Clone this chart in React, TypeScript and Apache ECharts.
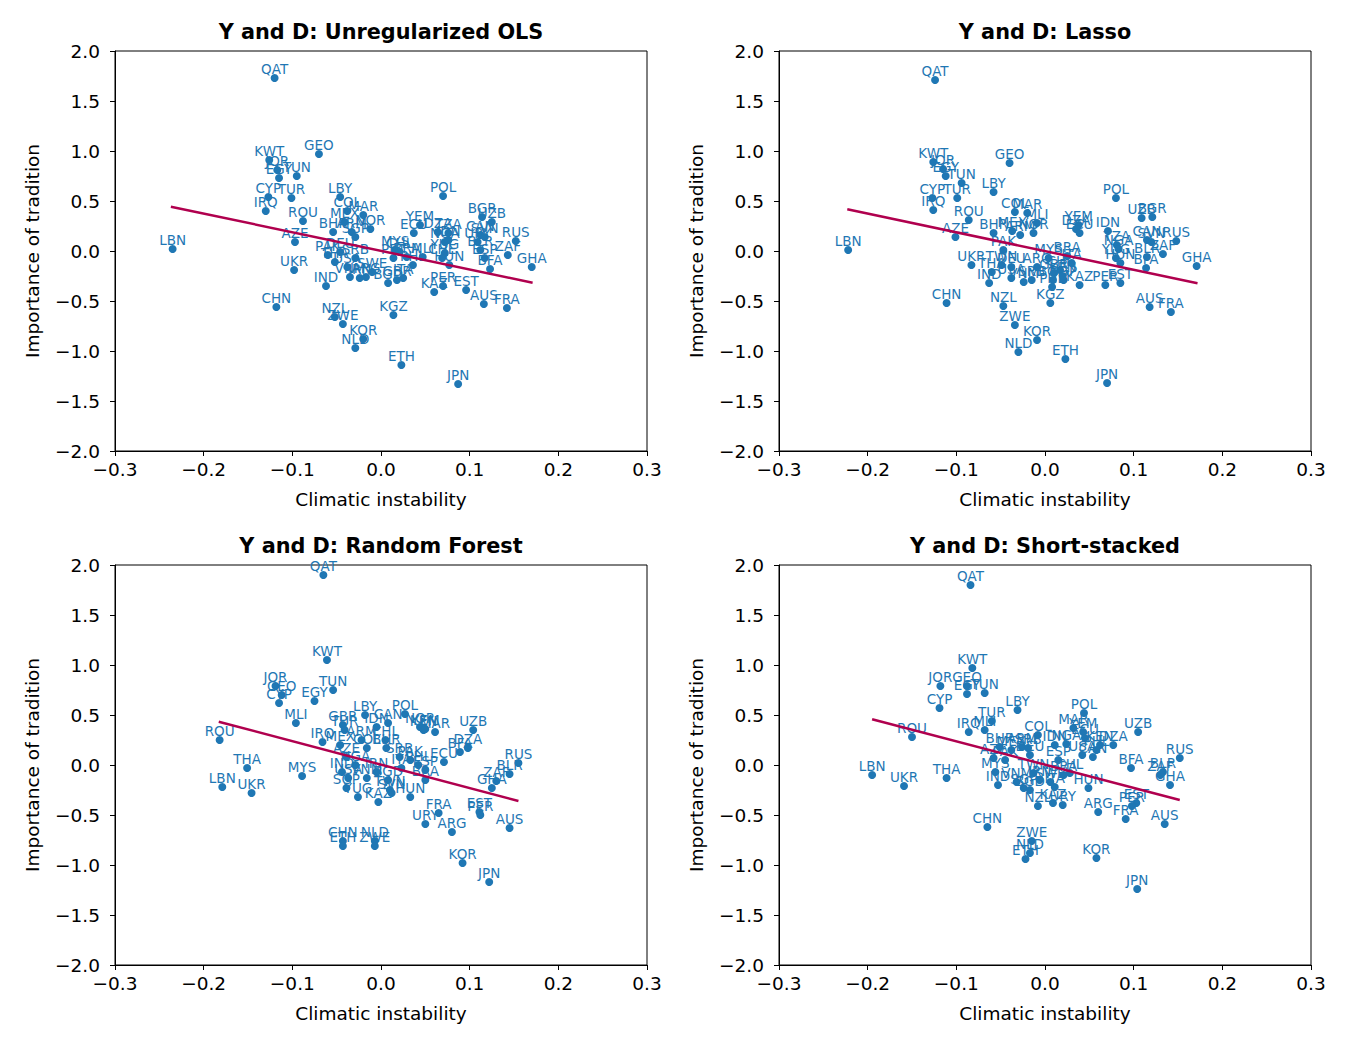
import React, { useEffect, useRef } from "react";
import * as echarts from "echarts";

type P = [string, number, number];

const olsPoints: P[] = [
  ["QAT", -0.120, 1.73], ["KWT", -0.126, 0.91], ["JOR", -0.117, 0.81], ["EGY", -0.115, 0.73],
  ["TUN", -0.095, 0.75], ["GEO", -0.070, 0.97], ["CYP", -0.127, 0.54], ["TUR", -0.101, 0.53],
  ["IRQ", -0.130, 0.40], ["ROU", -0.088, 0.30], ["LBY", -0.046, 0.54], ["COL", -0.038, 0.40],
  ["MAR", -0.020, 0.36], ["MEX", -0.041, 0.29], ["NOR", -0.012, 0.22], ["BHR", -0.054, 0.19],
  ["ARM", -0.033, 0.19], ["SGP", -0.029, 0.14], ["AZE", -0.097, 0.09], ["PAK", -0.060, -0.04],
  ["DEU", -0.046, -0.01], ["SRB", -0.029, -0.07], ["THA", -0.052, -0.11], ["USA", -0.038, -0.16],
  ["VNM", -0.035, -0.26], ["IRN", -0.024, -0.27], ["ARG", -0.017, -0.26], ["SWE", -0.010, -0.21],
  ["UKR", -0.098, -0.19], ["IND", -0.062, -0.35], ["CHN", -0.118, -0.56], ["NZL", -0.052, -0.66],
  ["ZWE", -0.043, -0.73], ["KOR", -0.020, -0.88], ["NLD", -0.029, -0.97], ["KGZ", 0.014, -0.64],
  ["ETH", 0.023, -1.14], ["YEM", 0.044, 0.26], ["ECU", 0.037, 0.18], ["MYS", 0.016, 0.01],
  ["CHL", 0.021, -0.01], ["BRA", 0.029, -0.06], ["PHL", 0.036, -0.14], ["BGD", 0.008, -0.32],
  ["GBR", 0.018, -0.29], ["ITA", 0.025, -0.27], ["PRT", 0.014, -0.07], ["MLI", 0.047, -0.06],
  ["POL", 0.070, 0.55], ["BGR", 0.114, 0.34], ["UZB", 0.125, 0.29], ["DZA", 0.064, 0.19],
  ["TZA", 0.076, 0.18], ["NGA", 0.072, 0.09], ["IDN", 0.076, 0.11], ["CAN", 0.112, 0.16],
  ["SVN", 0.117, 0.14], ["URY", 0.109, 0.09], ["RUS", 0.152, 0.10], ["ZAF", 0.143, -0.04],
  ["BLR", 0.112, 0.01], ["ESP", 0.117, -0.07], ["BFA", 0.123, -0.18], ["GHA", 0.170, -0.16],
  ["YUG", 0.072, -0.02], ["HUN", 0.077, -0.14], ["CHE", 0.069, -0.07], ["PER", 0.070, -0.35],
  ["KAZ", 0.060, -0.41], ["EST", 0.096, -0.39], ["AUS", 0.116, -0.53], ["FRA", 0.142, -0.57],
  ["JPN", 0.087, -1.33], ["LBN", -0.235, 0.02],
];
const olsLine: [number, number][] = [[-0.237, 0.443], [0.171, -0.317]];

const lassoPoints: P[] = [
  ["QAT", -0.124, 1.71], ["KWT", -0.126, 0.89], ["JOR", -0.115, 0.82], ["EGY", -0.112, 0.75],
  ["TUN", -0.094, 0.68], ["GEO", -0.040, 0.88], ["CYP", -0.127, 0.53], ["TUR", -0.099, 0.53],
  ["IRQ", -0.126, 0.41], ["LBY", -0.058, 0.59], ["ROU", -0.086, 0.31], ["AZE", -0.101, 0.14],
  ["COL", -0.034, 0.39], ["MAR", -0.020, 0.38], ["MEX", -0.037, 0.20], ["BHR", -0.058, 0.18],
  ["ARM", -0.028, 0.16], ["NOR", -0.013, 0.18], ["MLI", -0.009, 0.28], ["PAK", -0.047, 0.01],
  ["UKR", -0.083, -0.14], ["THA", -0.060, -0.21], ["IND", -0.063, -0.32], ["TWN", -0.049, -0.14],
  ["DEU", -0.038, -0.16], ["USA", -0.038, -0.27], ["VNM", -0.024, -0.31], ["SRB", -0.015, -0.29],
  ["ARG", -0.009, -0.16], ["MYS", 0.004, -0.07], ["BGD", 0.009, -0.29], ["PHL", 0.008, -0.36],
  ["SGP", 0.021, -0.29], ["CHL", 0.017, -0.19], ["BRA", 0.025, -0.05], ["ITA", 0.030, -0.12],
  ["KEN", 0.020, -0.25], ["GBR", 0.010, -0.22], ["CHN", -0.111, -0.52], ["NZL", -0.047, -0.55],
  ["ZWE", -0.034, -0.74], ["KOR", -0.009, -0.89], ["NLD", -0.030, -1.01], ["KGZ", 0.006, -0.52],
  ["ETH", 0.023, -1.08], ["POL", 0.080, 0.53], ["UZB", 0.109, 0.33], ["BGR", 0.121, 0.34],
  ["YEM", 0.038, 0.26], ["DZA", 0.035, 0.22], ["ECU", 0.039, 0.18], ["IDN", 0.071, 0.20],
  ["TZA", 0.081, 0.06], ["NGA", 0.083, 0.02], ["CAN", 0.115, 0.11], ["SVN", 0.120, 0.09],
  ["RUS", 0.148, 0.10], ["ZAF", 0.133, -0.03], ["BLR", 0.115, -0.06], ["BFA", 0.114, -0.17],
  ["YUG", 0.080, -0.07], ["HUN", 0.085, -0.12], ["EST", 0.085, -0.32], ["PER", 0.068, -0.34],
  ["KAZ", 0.039, -0.34], ["GHA", 0.171, -0.15], ["AUS", 0.118, -0.56], ["FRA", 0.142, -0.61],
  ["JPN", 0.070, -1.32], ["LBN", -0.222, 0.01],
];
const lassoLine: [number, number][] = [[-0.223, 0.417], [0.172, -0.323]];

const rfPoints: P[] = [
  ["QAT", -0.065, 1.90], ["KWT", -0.061, 1.05], ["JOR", -0.119, 0.79], ["GEO", -0.112, 0.70],
  ["CYP", -0.115, 0.62], ["EGY", -0.075, 0.64], ["TUN", -0.054, 0.75], ["MLI", -0.096, 0.42],
  ["ROU", -0.182, 0.25], ["LBY", -0.018, 0.50], ["GBR", -0.043, 0.40], ["TUR", -0.041, 0.35],
  ["IRQ", -0.066, 0.23], ["THA", -0.151, -0.03], ["LBN", -0.179, -0.22], ["UKR", -0.146, -0.28],
  ["MYS", -0.089, -0.11], ["POL", 0.027, 0.51], ["CAN", 0.008, 0.42], ["NOR", 0.044, 0.38],
  ["KEN", 0.048, 0.35], ["MAR", 0.061, 0.33], ["IDN", -0.005, 0.38], ["ECU", 0.071, 0.03],
  ["MEX", -0.046, 0.20], ["ARM", -0.022, 0.25], ["COL", -0.016, 0.17], ["CHL", 0.005, 0.25],
  ["BHR", 0.006, 0.17], ["SRB", 0.021, 0.08], ["PAK", 0.033, 0.05], ["PHL", 0.042, 0.00],
  ["AZE", -0.039, 0.08], ["NGA", -0.029, 0.00], ["IND", -0.044, -0.07], ["USA", -0.037, -0.13],
  ["SGP", -0.039, -0.23], ["YUG", -0.026, -0.32], ["KAZ", -0.003, -0.37], ["VNM", -0.016, -0.13],
  ["IRN", -0.005, -0.07], ["BGD", 0.008, -0.15], ["TWN", 0.010, -0.25], ["SVN", 0.012, -0.28],
  ["ITA", 0.023, -0.03], ["HUN", 0.033, -0.32], ["BRA", 0.050, -0.15], ["ESP", 0.050, -0.05],
  ["YEM", 0.050, 0.36], ["FRA", 0.065, -0.48], ["URY", 0.050, -0.59], ["ARG", 0.080, -0.67],
  ["CHN", -0.043, -0.76], ["ETH", -0.043, -0.81], ["NLD", -0.007, -0.76], ["ZWE", -0.007, -0.81],
  ["UZB", 0.104, 0.35], ["BFA", 0.089, 0.13], ["DZA", 0.098, 0.17], ["RUS", 0.155, 0.02],
  ["BLR", 0.145, -0.09], ["ZAF", 0.130, -0.16], ["GHA", 0.125, -0.23], ["EST", 0.111, -0.47],
  ["PER", 0.112, -0.50], ["AUS", 0.145, -0.63], ["KOR", 0.092, -0.98], ["JPN", 0.122, -1.17],
];
const rfLine: [number, number][] = [[-0.183, 0.433], [0.155, -0.36]];

const stackPoints: P[] = [
  ["QAT", -0.084, 1.80], ["KWT", -0.082, 0.97], ["JOR", -0.118, 0.79], ["GEO", -0.088, 0.79],
  ["EGY", -0.088, 0.71], ["TUN", -0.068, 0.72], ["CYP", -0.119, 0.57], ["LBY", -0.031, 0.55],
  ["TUR", -0.060, 0.44], ["MLI", -0.068, 0.35], ["IRQ", -0.086, 0.33], ["ROU", -0.150, 0.28],
  ["COL", -0.008, 0.30], ["LBN", -0.195, -0.10], ["THA", -0.111, -0.13], ["UKR", -0.159, -0.21],
  ["IDN", 0.011, 0.20], ["NGA", 0.024, 0.21], ["BHR", -0.051, 0.18], ["MEX", -0.038, 0.15],
  ["ARM", -0.026, 0.18], ["SRB", -0.019, 0.17], ["DEU", -0.017, 0.10], ["AZE", -0.058, 0.07],
  ["PAK", -0.045, 0.05], ["ESP", 0.015, 0.05], ["MYS", -0.056, -0.07], ["IND", -0.053, -0.20],
  ["VNM", -0.032, -0.17], ["SGP", -0.024, -0.23], ["BGD", -0.017, -0.25], ["TWN", -0.013, -0.08],
  ["IRN", -0.006, -0.15], ["SWE", 0.006, -0.17], ["ITA", 0.011, -0.22], ["CHL", 0.028, -0.08],
  ["BRA", 0.021, -0.10], ["NZL", -0.008, -0.41], ["KAZ", 0.009, -0.38], ["URY", 0.020, -0.40],
  ["CHN", -0.065, -0.62], ["ZWE", -0.015, -0.76], ["NLD", -0.017, -0.88], ["ETH", -0.022, -0.94],
  ["POL", 0.044, 0.52], ["MAR", 0.032, 0.37], ["YEM", 0.043, 0.33], ["ECU", 0.045, 0.27],
  ["DZA", 0.077, 0.20], ["KEN", 0.062, 0.20], ["PHL", 0.058, 0.15], ["USA", 0.042, 0.10],
  ["CAN", 0.054, 0.08], ["UZB", 0.105, 0.33], ["BFA", 0.097, -0.03], ["RUS", 0.152, 0.07],
  ["ZAF", 0.130, -0.10], ["BLR", 0.133, -0.07], ["GHA", 0.141, -0.20], ["HUN", 0.049, -0.23],
  ["ARG", 0.060, -0.47], ["FRA", 0.091, -0.54], ["EST", 0.103, -0.38], ["PER", 0.098, -0.41],
  ["AUS", 0.135, -0.59], ["KOR", 0.058, -0.93], ["JPN", 0.104, -1.24],
];
const stackLine: [number, number][] = [[-0.195, 0.457], [0.152, -0.35]];

const panelTitles = [
  "Y and D: Unregularized OLS",
  "Y and D: Lasso",
  "Y and D: Random Forest",
  "Y and D: Short-stacked",
];
const panelPoints = [olsPoints, lassoPoints, rfPoints, stackPoints];
const panelLines = [olsLine, lassoLine, rfLine, stackLine];

const xLabel = "Climatic instability";
const yLabel = "Importance of tradition";

const FONT = "DejaVu Sans";
const DOT = "#1f77b4";
const LINE = "#b0004e";

const fmt = (v: number) => {
  const r = Math.abs(v) < 1e-9 ? 0 : v;
  const s = r.toFixed(1);
  return s.startsWith("-") ? "\u2212" + s.slice(1) : s;
};

export default function App() {
  const ref = useRef<HTMLDivElement>(null);
  useEffect(() => {
    if (!ref.current) return;
    const chart = echarts.init(ref.current, undefined, { renderer: "svg" });
    const lefts = [115, 779, 115, 779];
    const tops = [51, 51, 565, 565];
    const W = 532;
    const H = 400;
    const grid = lefts.map((l, i) => ({
      left: l, top: tops[i], width: W, height: H,
      show: true, borderColor: "#000", borderWidth: 1, backgroundColor: "transparent",
    }));
    const xAxis = lefts.map((_, i) => ({
      gridIndex: i, type: "value", min: -0.3, max: 0.3, interval: 0.1,
      name: xLabel, nameLocation: "middle", nameGap: 39,
      nameTextStyle: { color: "#000", fontSize: 18.5, fontFamily: FONT },
      axisLine: { show: true, onZero: false, lineStyle: { color: "#000", width: 1 } },
      axisTick: { show: true, inside: false, length: 5, lineStyle: { color: "#000" } },
      axisLabel: { color: "#000", fontSize: 18.5, fontFamily: FONT, margin: 9, formatter: fmt },
      splitLine: { show: false },
    }));
    const yAxis = lefts.map((_, i) => ({
      gridIndex: i, type: "value", min: -2, max: 2, interval: 0.5,
      name: yLabel, nameLocation: "middle", nameGap: 73,
      nameTextStyle: { color: "#000", fontSize: 18.5, fontFamily: FONT },
      axisLine: { show: true, onZero: false, lineStyle: { color: "#000", width: 1 } },
      axisTick: { show: true, inside: false, length: 5, lineStyle: { color: "#000" } },
      axisLabel: { color: "#000", fontSize: 18.5, fontFamily: FONT, margin: 15, formatter: fmt },
      splitLine: { show: false },
    }));
    const series: any[] = [];
    panelPoints.forEach((pts, i) => {
      series.push({
        type: "scatter", xAxisIndex: i, yAxisIndex: i,
        symbol: "circle", symbolSize: 8,
        itemStyle: { color: DOT, opacity: 1 },
        data: pts.map((p) => ({ name: p[0], value: [p[1], p[2]] })),
        label: {
          show: true, position: "top", distance: -2,
          formatter: (d: any) => d.name,
          color: DOT, fontSize: 13.5, fontFamily: FONT,
        },
        labelLayout: { hideOverlap: false },
        z: 3,
      });
      series.push({
        type: "line", xAxisIndex: i, yAxisIndex: i,
        data: panelLines[i], showSymbol: false, symbol: "none",
        lineStyle: { color: LINE, width: 2.5 },
        z: 4, silent: true,
      });
    });
    const graphic = panelTitles.map((t, i) => ({
      type: "text", x: lefts[i] + W / 2, y: tops[i] - 19,
      style: {
        text: t, fill: "#000", fontSize: 20.8, fontWeight: "bold", fontFamily: FONT,
        align: "center", verticalAlign: "middle",
      },
    }));
    chart.setOption({
      animation: false,
      backgroundColor: "#fff",
      grid, xAxis, yAxis, series, graphic,
    });
    return () => chart.dispose();
  }, []);
  return (
    <div style={{ position: "absolute", left: 0, top: 0, width: 1350, height: 1050, background: "#fff" }}>
      <div ref={ref} style={{ width: 1350, height: 1050 }} />
    </div>
  );
}
